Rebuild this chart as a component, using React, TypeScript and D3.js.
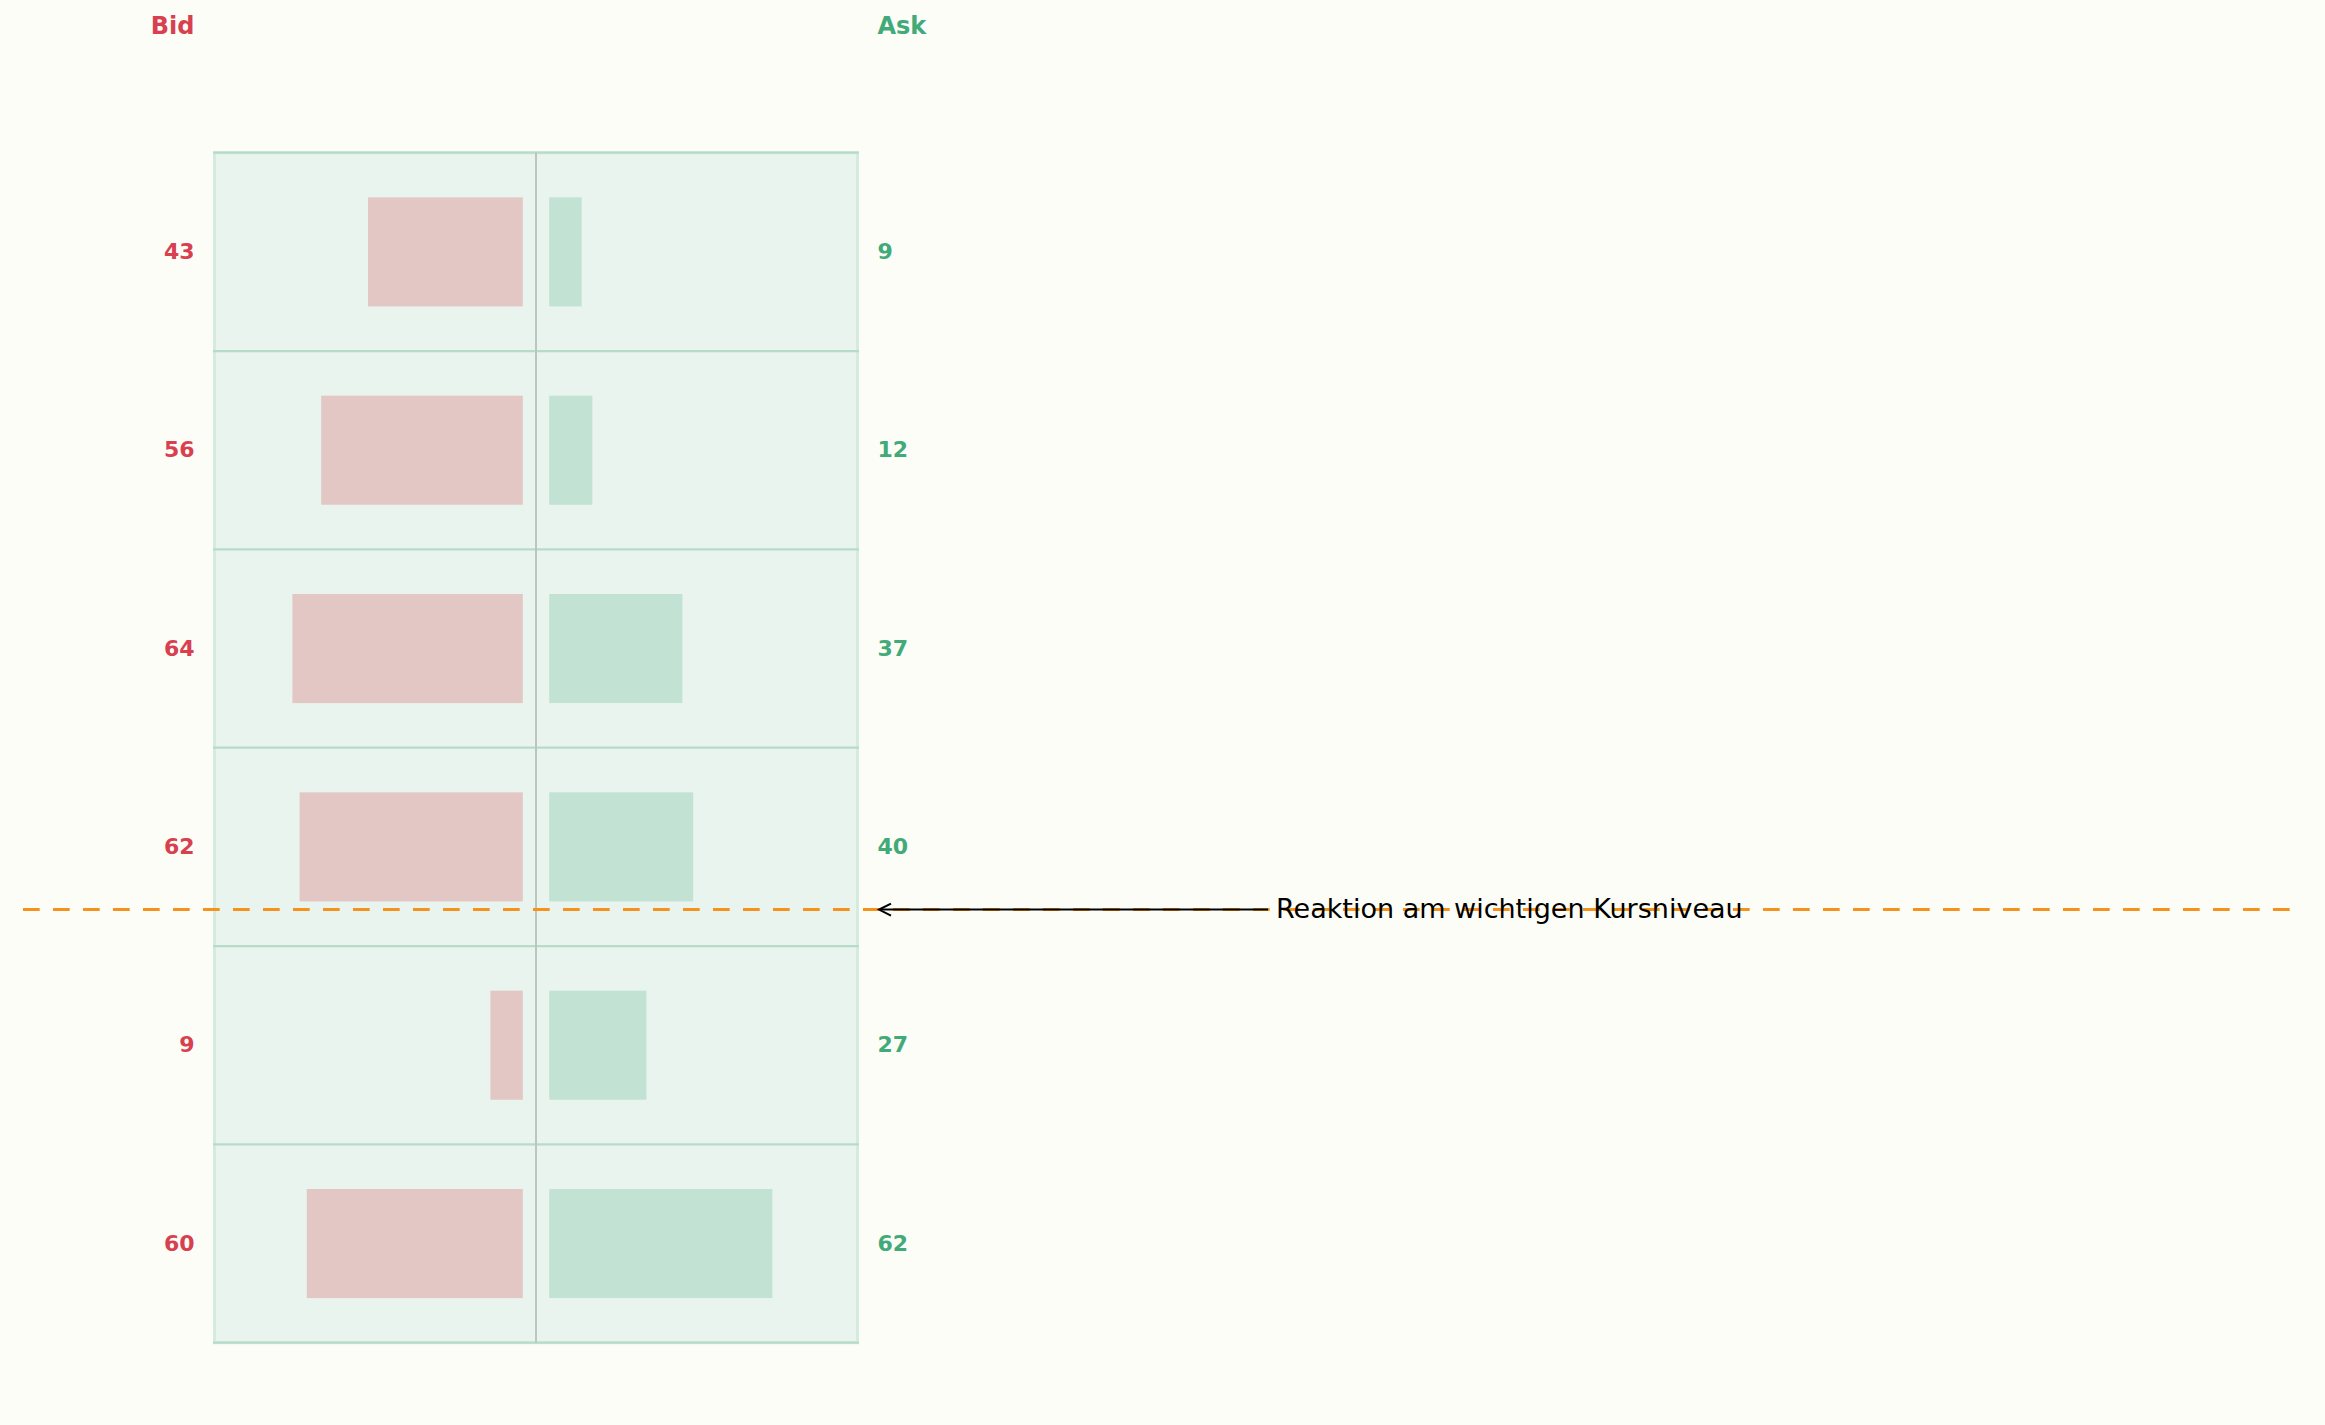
import React from "react";
import * as d3 from "d3";

const levels = ["L1", "L2", "L3", "L4", "L5", "L6"];
const bidSizes = [43, 56, 64, 62, 9, 60];
const askSizes = [9, 12, 37, 40, 27, 62];
const keyLevel = 3.816; // in row units from top
const annotationText = "Reaktion am wichtigen Kursniveau";
const bidTitle = "Bid";
const askTitle = "Ask";

const W = 2325;
const H = 1425;
const FONT = "'DejaVu Sans', sans-serif";
const BID_COLOR = "#d9404f";
const ASK_COLOR = "#41aa78";

export default function App() {
  const left = 214.5;
  const right = 857.5;
  const top = 152.7;
  const bottom = 1342.7;
  const center = 536;
  const gap = 13.2;

  const y = d3.scaleBand<string>().domain(levels).range([top, bottom]).paddingInner(0).paddingOuter(0);
  const yLin = d3.scaleLinear().domain([0, levels.length]).range([top, bottom]);
  const x = d3.scaleLinear().domain([0, 85]).range([0, 306]);
  const barH = y.bandwidth() * 0.55;

  const keyY = yLin(keyLevel);
  const arrowTipX = 879;
  const arrowTailX = 1268;

  return (
    <svg
      width={W}
      height={H}
      style={{ position: "fixed", left: 0, top: 0, display: "block" }}
      fontFamily={FONT}
    >
      <rect x={0} y={0} width={W} height={H} fill="#fdfdf8" />
      {/* panel */}
      <rect x={left} y={top} width={right - left} height={bottom - top} fill="#e9f4ee" stroke="#d6ebe0" strokeWidth={3} />
      {/* row separators */}
      {d3.range(levels.length + 1).map((i) => (
        <line key={"r" + i} x1={left - 1.5} x2={right + 1.5} y1={yLin(i)} y2={yLin(i)} stroke="#b6dcc8" strokeWidth={2.2} />
      ))}
      {/* center line */}
      <line x1={center} x2={center} y1={top} y2={bottom} stroke="#bcc6bf" strokeWidth={2} />
      {/* bars */}
      {levels.map((l, i) => {
        const yc = (y(l) as number) + y.bandwidth() / 2;
        return (
          <g key={l}>
            <rect x={center - gap - x(bidSizes[i])} y={yc - barH / 2} width={x(bidSizes[i])} height={barH} fill="#e2c7c4" />
            <rect x={center + gap} y={yc - barH / 2} width={x(askSizes[i])} height={barH} fill="#c2e3d3" />
            <text x={194.5} y={yc + 7} textAnchor="end" fontSize={22} fontWeight="bold" fill={BID_COLOR}>
              {bidSizes[i]}
            </text>
            <text x={877.5} y={yc + 7} textAnchor="start" fontSize={22} fontWeight="bold" fill={ASK_COLOR}>
              {askSizes[i]}
            </text>
          </g>
        );
      })}
      {/* headers */}
      <text x={194.5} y={33.5} textAnchor="end" fontSize={24} fontWeight="bold" fill={BID_COLOR}>
        {bidTitle}
      </text>
      <text x={877.5} y={33.5} textAnchor="start" fontSize={24} fontWeight="bold" fill={ASK_COLOR}>
        {askTitle}
      </text>
      {/* key level dashed line */}
      <line x1={23} x2={2291} y1={keyY} y2={keyY} stroke="#f5921e" strokeWidth={3} strokeDasharray="16.7 13.3" />
      {/* annotation */}
      <line x1={arrowTailX} x2={arrowTipX + 1} y1={keyY} y2={keyY} stroke="#000" strokeWidth={2} />
      <path
        d={`M${arrowTipX + 12},${keyY - 6} L${arrowTipX},${keyY} L${arrowTipX + 12},${keyY + 6}`}
        fill="none"
        stroke="#000"
        strokeWidth={2}
      />
      <text x={1276} y={keyY + 8} fontSize={27} fill="#000">
        {annotationText}
      </text>
    </svg>
  );
}
